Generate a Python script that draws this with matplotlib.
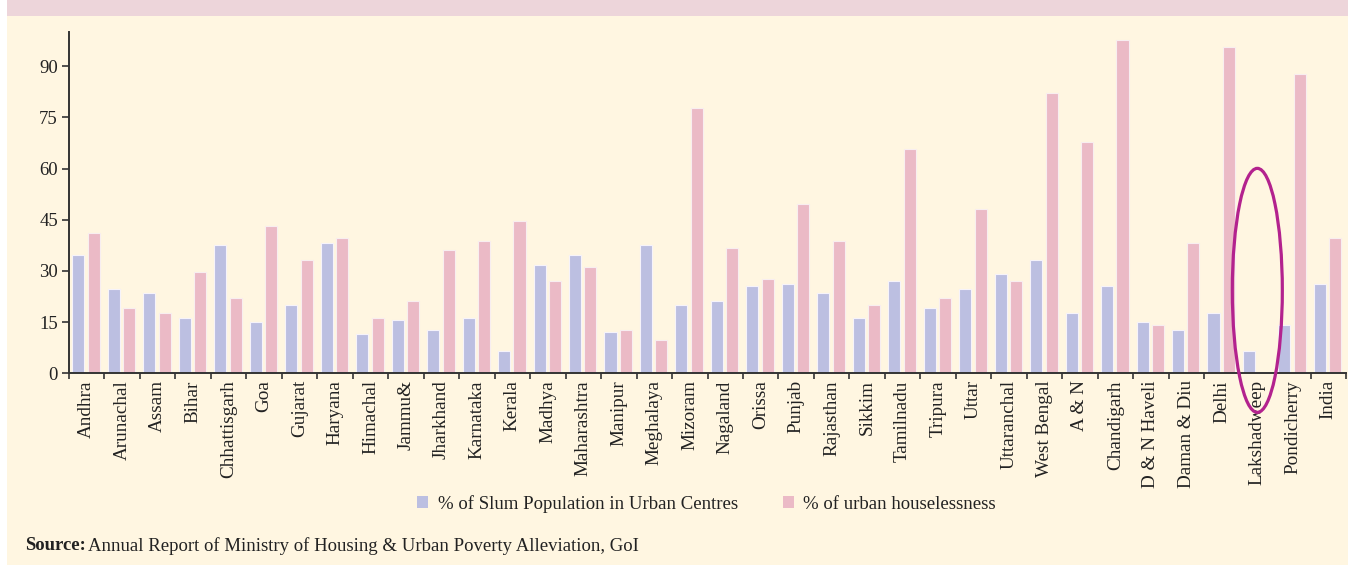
import matplotlib
matplotlib.use("Agg")
import matplotlib.pyplot as plt
import numpy as np
from matplotlib.patches import Rectangle, Ellipse, Patch

states = ["Andhra", "Arunachal", "Assam", "Bihar", "Chhattisgarh", "Goa", "Gujarat",
          "Haryana", "Himachal", "Jammu&", "Jharkhand", "Karnataka", "Kerala", "Madhya",
          "Maharashtra", "Manipur", "Meghalaya", "Mizoram", "Nagaland", "Orissa", "Punjab",
          "Rajasthan", "Sikkim", "Tamilnadu", "Tripura", "Uttar", "Uttaranchal",
          "West Bengal", "A & N", "Chandigarh", "D & N Haveli", "Daman & Diu", "Delhi",
          "Lakshadweep", "Pondicherry", "India"]
slum_pct = [34.8, 24.8, 23.4, 16.3, 37.5, 14.9, 19.9, 38.3, 11.4, 15.6, 12.8, 16.3,
            6.4, 31.8, 34.7, 12.1, 37.5, 19.9, 21.2, 25.5, 26.2, 23.4, 16.3, 26.9,
            19.1, 24.8, 29.0, 33.3, 17.7, 25.5, 14.9, 12.8, 17.7, 6.4, 14.1, 26.2]
houseless_pct = [41.1, 19.2, 17.7, 29.7, 22.0, 43.1, 33.3, 39.6, 16.3, 21.2, 36.1, 38.9,
                 44.6, 27.0, 31.2, 12.8, 9.9, 77.8, 36.8, 27.6, 49.6, 38.9, 19.9, 65.8,
                 22.0, 48.1, 27.0, 82.1, 67.9, 97.7, 14.1, 38.3, 95.5, 0.0, 87.7, 39.6]
yticks = [0, 15, 30, 45, 60, 75, 90]
highlight = "Lakshadweep"

CREAM = "#FFF6E1"
BAND = "#EDD5DA"
BLUE = "#BCBFE1"
PINK = "#EBBAC6"
MAGENTA = "#B3228E"
FONT = "Liberation Serif"

plt.rcParams["font.family"] = FONT

fig = plt.figure(figsize=(13.48, 5.65), dpi=100)
fig.patch.set_facecolor("white")
fig.patches.append(Rectangle((7 / 1348, 0), 1, (565 - 16) / 565, transform=fig.transFigure,
                             facecolor=CREAM, edgecolor="none", zorder=-10))
fig.patches.append(Rectangle((7 / 1348, (565 - 16) / 565), 1, 16 / 565, transform=fig.transFigure,
                             facecolor=BAND, edgecolor="none", zorder=-10))

ax = fig.add_axes([69 / 1348, (565 - 373.3) / 565, (1346 - 69) / 1348, (373.3 - 32) / 565])
ax.patch.set_visible(False)

x = np.arange(len(states))
w = 0.34
ax.bar(x - 0.235, slum_pct, w, color=BLUE, edgecolor="#F6F3FA", linewidth=0.8)
ax.bar(x + 0.2, houseless_pct, w, color=PINK, edgecolor="#F8EEF0", linewidth=0.8)

ax.set_xlim(-0.5, len(states) - 0.5)
ax.set_ylim(0, 100)
ax.set_yticks(yticks)
ax.tick_params(axis="y", labelsize=13.5, length=5, width=1.2, color="#333333", pad=3,
               labelcolor="#222222")

ax.set_xticks(x)
ax.set_xticklabels(states, rotation=90, fontsize=13.8, color="#222222")
ax.set_xticks(np.arange(len(states) + 1) - 0.5, minor=True)
ax.tick_params(axis="x", which="major", length=0, pad=5)
ax.tick_params(axis="x", which="minor", length=4, width=1.2, color="#333333")

for s in ["top", "right"]:
    ax.spines[s].set_visible(False)
for s in ["left", "bottom"]:
    ax.spines[s].set_color("#333333")
    ax.spines[s].set_linewidth(1.4)

i = states.index(highlight)
ax.add_patch(Ellipse((i, 24.3), 1.41, 71.5, fill=False, edgecolor=MAGENTA,
                     linewidth=2.3, clip_on=False, zorder=5))

handles = [Patch(facecolor=BLUE, edgecolor="none", label="% of Slum Population in Urban Centres"),
           Patch(facecolor=PINK, edgecolor="none", label="% of urban houselessness")]
fig.legend(handles=handles, loc="center", bbox_to_anchor=(706.5 / 1348, (565 - 504) / 565),
           ncol=2, frameon=False, fontsize=13.5, handlelength=0.6, handleheight=0.6,
           handletextpad=0.5, columnspacing=2.4, labelcolor="#222222")

fig.text(25 / 1348, (565 - 546) / 565, "Source:", fontsize=13.5, fontweight="bold",
         ha="left", va="center", color="#222222")
fig.text(88 / 1348, (565 - 546) / 565,
         "Annual Report of Ministry of Housing & Urban Poverty Alleviation, GoI",
         fontsize=13.5, ha="left", va="center", color="#222222")

fig.savefig("out.png", dpi=100)
